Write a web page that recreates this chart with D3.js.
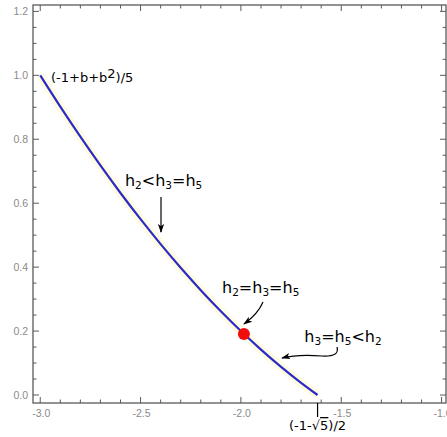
<!DOCTYPE html>
<html><head><meta charset="utf-8">
<script src="https://cdn.jsdelivr.net/npm/d3@7"></script>
<style>
html,body{margin:0;padding:0;background:#fff;}
svg{display:block;}
</style></head>
<body>
<svg id="chart" width="447" height="437"></svg>
<script>
// ---- data ----
const curveB = [-3.0,-2.9,-2.8,-2.7,-2.6,-2.5,-2.4,-2.3,-2.2,-2.1,-2.0,-1.9,-1.8,-1.7,-1.618];
const curveY = [1.0,0.902,0.808,0.718,0.632,0.55,0.472,0.398,0.328,0.262,0.2,0.142,0.088,0.038,0.0];
const dotPoint = [-1.985, 0.191];
const xTickMajor = [-3.0,-2.5,-2.0,-1.5,-1.0];
const xTickLabels = ["-3.0","-2.5","-2.0","-1.5","-1.0"];
const yTickMajor = [0.0,0.2,0.4,0.6,0.8,1.0,1.2];
const yTickLabels = ["0.0","0.2","0.4","0.6","0.8","1.0","1.2"];
const specialTick = -1.618;
const annotations = [
  {text:["h","2","<h","3","=h","5"], x:-2.578, y:0.655},
  {text:["h","2","=h","3","=h","5"], x:-2.094, y:0.32},
  {text:["h","3","=h","5","<h","2"], x:-1.684, y:0.165}
];

const svg = d3.select("#chart");
const xMin=-3.036, xMax=-0.978, yMin=-0.025, yMax=1.22;
const x = d3.scaleLinear().domain([xMin,xMax]).range([33,446]);
const y = d3.scaleLinear().domain([yMin,yMax]).range([403,5]);

const frameColor="#5a5a5a";
svg.append("rect").attr("x",x(xMin)).attr("y",y(yMax))
  .attr("width",x(xMax)-x(xMin)).attr("height",y(yMin)-y(yMax))
  .attr("fill","none").attr("stroke",frameColor).attr("stroke-width",1.3);

const xMinor = d3.range(-30,-9).map(i=>i/10);
const yMinor = d3.range(0,25).map(i=>i/20);
const isMajX = v=>Math.abs(v*2-Math.round(v*2))<1e-6;
const isMajY = v=>Math.abs(v*5-Math.round(v*5))<1e-6;
const tg = svg.append("g").attr("stroke",frameColor).attr("stroke-width",1);
xMinor.forEach(v=>{
  const L = isMajX(v)?6:3.5;
  tg.append("line").attr("x1",x(v)).attr("x2",x(v)).attr("y1",y(yMin)).attr("y2",y(yMin)-L);
  tg.append("line").attr("x1",x(v)).attr("x2",x(v)).attr("y1",y(yMax)).attr("y2",y(yMax)+L);
});
yMinor.forEach(v=>{
  const L = isMajY(v)?6:3.5;
  tg.append("line").attr("y1",y(v)).attr("y2",y(v)).attr("x1",x(xMin)).attr("x2",x(xMin)+L);
  tg.append("line").attr("y1",y(v)).attr("y2",y(v)).attr("x1",x(xMax)).attr("x2",x(xMax)-L);
});
const lab = svg.append("g").attr("fill","#8a8a8a").attr("font-family","Liberation Sans, Arial, sans-serif").attr("font-size",10.5);
xTickMajor.forEach((v,i)=>{
  lab.append("text").attr("x",x(v)+1).attr("y",417).attr("text-anchor","middle").text(xTickLabels[i]);
});
yTickMajor.forEach((v,i)=>{
  lab.append("text").attr("x",28).attr("y",y(v)+4).attr("text-anchor","end").text(yTickLabels[i]);
});

// special tick
svg.append("line").attr("x1",x(specialTick)).attr("x2",x(specialTick))
  .attr("y1",y(yMin)).attr("y2",y(yMin)+14).attr("stroke","#000").attr("stroke-width",1.2);
const st = svg.append("text").attr("x",x(specialTick)).attr("y",430).attr("text-anchor","middle")
  .attr("font-family","DejaVu Sans, sans-serif").attr("font-size",13).attr("fill","#000");
st.append("tspan").text("(-1-√");
st.append("tspan").attr("text-decoration","overline").text("5");
st.append("tspan").text(")/2");

// curve
const pts = curveB.map((b,i)=>[b,curveY[i]]);
const line = d3.line().x(d=>x(d[0])).y(d=>y(d[1])).curve(d3.curveMonotoneX);
svg.append("path").datum(pts).attr("d",line).attr("fill","none")
  .attr("stroke","#fff8d0").attr("stroke-width",9).attr("opacity",0.6);
svg.append("path").datum(pts).attr("d",line).attr("fill","none")
  .attr("stroke","#2b2bc8").attr("stroke-width",2.2);

svg.append("circle").attr("cx",x(dotPoint[0])).attr("cy",y(dotPoint[1])).attr("r",6).attr("fill","#f20d0d");

// formula label
const fl = svg.append("text").attr("x",51).attr("y",82).attr("font-family","DejaVu Sans, sans-serif")
  .attr("font-size",13).attr("fill","#000");
fl.append("tspan").text("(-1+b+b");
fl.append("tspan").attr("dy",-4).text("2");
fl.append("tspan").attr("dy",4).text(")/5");

// h annotations
annotations.forEach(a=>{
  const t = svg.append("text").attr("x",x(a.x)).attr("y",y(a.y))
    .attr("font-family","DejaVu Sans, sans-serif").attr("font-size",16).attr("fill","#000");
  a.text.forEach((s,i)=>{
    if(i%2===1) t.append("tspan").attr("dy",3).attr("font-size",10.5).text(s);
    else t.append("tspan").attr("dy",i===0?0:-3).text(s);
  });
});

// arrows
const defs = svg.append("defs");
defs.append("marker").attr("id","ah").attr("viewBox","0 0 10 10").attr("refX",9).attr("refY",5)
  .attr("markerWidth",9).attr("markerHeight",9).attr("markerUnits","userSpaceOnUse").attr("orient","auto")
  .append("path").attr("d","M0,1.5 L10,5 L0,8.5 L2.5,5 Z").attr("fill","#000");
const arrowPaths = [
  "M161,197 L161,232",
  "M263,302 Q258,314 244,324",
  "M337,347 Q340,357 322,356 Q298,354 282,358"
];
arrowPaths.forEach(d=>{
  svg.append("path").attr("d",d).attr("fill","none").attr("stroke","#000").attr("stroke-width",1.2)
    .attr("marker-end","url(#ah)");
});
</script>
</body></html>
